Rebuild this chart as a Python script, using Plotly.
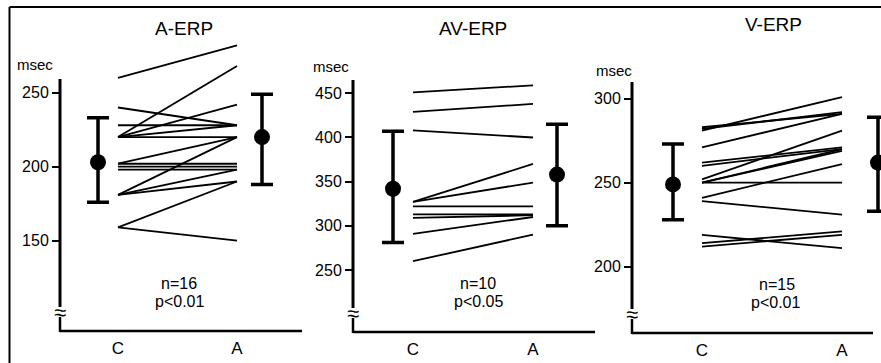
import plotly.graph_objects as go

W, H = 881, 363

categories = ["C", "A"]

# A-ERP (msec), control (C) vs after (A), one entry per subject
a_erp_c = [260, 220, 240, 228, 220, 220, 220, 202, 202, 200, 198, 181, 181, 181, 159, 159]
a_erp_a = [282, 268, 228, 228, 242, 228, 220, 220, 202, 200, 198, 198, 220, 190, 190, 150]
a_erp_mean = [203, 220]
a_erp_upper = [233, 249]
a_erp_lower = [176, 188]

# AV-ERP
av_erp_c = [451, 429, 408, 327, 327, 322, 313, 309, 291, 260]
av_erp_a = [459, 438, 400, 370, 349, 322, 313, 312, 310, 290]
av_erp_mean = [342, 358]
av_erp_upper = [407, 415]
av_erp_lower = [281, 300]

# V-ERP
v_erp_c = [283, 282, 281, 271, 262, 260, 252, 250, 250, 250, 241, 239, 219, 214, 212]
v_erp_a = [291, 292, 301, 291, 271, 270, 281, 270, 269, 250, 261, 231, 211, 221, 219]
v_erp_mean = [249, 262]
v_erp_upper = [273, 289]
v_erp_lower = [228, 233]

titles = ["A-ERP", "AV-ERP", "V-ERP"]
n_labels = ["n=16", "n=10", "n=15"]
p_labels = ["p&lt;0.01", "p&lt;0.05", "p&lt;0.01"]
y_ticks = [[150, 200, 250], [250, 300, 350, 400, 450], [200, 250, 300]]
y_unit = "msec"

panels_data = [
    (a_erp_c, a_erp_a, a_erp_mean, a_erp_upper, a_erp_lower),
    (av_erp_c, av_erp_a, av_erp_mean, av_erp_upper, av_erp_lower),
    (v_erp_c, v_erp_a, v_erp_mean, v_erp_upper, v_erp_lower),
]

# ---- layout geometry (pixels) ----
geom = [
    dict(ax=60, bottom=331, top=79, brk=312, xend=302, dom1=302, cpx=118, apx=237,
         err=(98, 262), cal=((250, 92.7), (150, 240.7)),
         title=(184, 28), msec=(35, 64), n=(179, 283), p=(179, 301)),
    dict(ax=353, bottom=332, top=80, brk=313, xend=595, dom1=595, cpx=413, apx=533,
         err=(393, 557), cal=((450, 93.3), (250, 270.0)),
         title=(473, 28), msec=(331, 67), n=(478, 283), p=(479, 301)),
    dict(ax=632, bottom=333, top=82, brk=314, xend=873, dom1=881, cpx=702, apx=842,
         err=(673, 878), cal=((300, 98.7), (200, 266.7)),
         title=(773, 24), msec=(614, 71), n=(777, 284), p=(775, 302)),
]
DOM_TOP = 38
FONT = "Liberation Sans, Arial, sans-serif"

fig = go.Figure()
shapes = []
annotations = []


def px(x):
    return x / W


def py(y):
    return 1 - y / H


for i, (g, d) in enumerate(zip(geom, panels_data)):
    cvals, avals, mean, upper, lower = d
    k = "" if i == 0 else str(i + 1)
    xa, ya = "x" + k, "y" + k
    span = g["apx"] - g["cpx"]
    xr = [(g["ax"] - g["cpx"]) / span, (g["dom1"] - g["cpx"]) / span]
    (v1, p1), (v2, p2) = g["cal"]
    s = (p2 - p1) / (v2 - v1)

    def val(ypx):
        return v1 + (ypx - p1) / s

    yr = [val(g["bottom"]), val(DOM_TOP)]

    # individual subject lines
    xs, ys = [], []
    for c, a in zip(cvals, avals):
        xs += [0, 1, None]
        ys += [c, a, None]
    fig.add_trace(go.Scatter(x=xs, y=ys, mode="lines", xaxis=xa, yaxis=ya,
                             line=dict(color="black", width=1.8), showlegend=False,
                             hoverinfo="skip"))
    # mean +- SD
    ex = [(e - g["cpx"]) / span for e in g["err"]]
    fig.add_trace(go.Scatter(
        x=ex, y=mean, mode="markers", xaxis=xa, yaxis=ya, showlegend=False,
        marker=dict(color="black", size=16, symbol="circle"),
        error_y=dict(type="data", symmetric=False,
                     array=[u - m for u, m in zip(upper, mean)],
                     arrayminus=[m - l for m, l in zip(mean, lower)],
                     color="black", thickness=3.5, width=11),
        cliponaxis=False))

    fig.update_layout({
        "xaxis" + k: dict(domain=[px(g["ax"]), px(g["dom1"])], range=xr, anchor=ya,
                          tickvals=[0, 1], ticktext=categories, ticks="",
                          ticklabelstandoff=5,
                          showline=False, showgrid=False, zeroline=False,
                          tickfont=dict(family=FONT, size=17, color="black")),
        "yaxis" + k: dict(domain=[py(g["bottom"]), py(DOM_TOP)], range=yr, anchor=xa,
                          tickvals=y_ticks[i], ticks="outside", ticklen=7, tickwidth=2,
                          tickcolor="black", showline=False, showgrid=False,
                          zeroline=False,
                          tickfont=dict(family=FONT, size=16, color="black")),
    })

    # axis lines (with break gap on y)
    x0 = px(g["ax"])
    shapes.append(dict(type="line", xref="paper", yref="paper", x0=x0, x1=x0,
                       y0=py(g["top"]), y1=py(g["brk"] - 5),
                       line=dict(color="black", width=3)))
    shapes.append(dict(type="line", xref="paper", yref="paper", x0=x0, x1=x0,
                       y0=py(g["brk"] + 5), y1=py(g["bottom"] + 1),
                       line=dict(color="black", width=2.5)))
    shapes.append(dict(type="line", xref="paper", yref="paper", x0=x0,
                       x1=px(g["xend"]), y0=py(g["bottom"]), y1=py(g["bottom"]),
                       line=dict(color="black", width=2.5)))

    annotations += [
        dict(text="≈", x=x0, y=py(g["brk"]), xref="paper", yref="paper",
             showarrow=False, xanchor="center", yanchor="middle",
             font=dict(family=FONT, size=22, color="black")),
        dict(text=titles[i], x=px(g["title"][0]), y=py(g["title"][1]), xref="paper",
             yref="paper", showarrow=False, xanchor="center", yanchor="middle",
             font=dict(family=FONT, size=19, color="black")),
        dict(text=y_unit, x=px(g["msec"][0]), y=py(g["msec"][1]), xref="paper",
             yref="paper", showarrow=False, xanchor="center", yanchor="middle",
             font=dict(family=FONT, size=15, color="black")),
        dict(text=n_labels[i], x=px(g["n"][0]), y=py(g["n"][1]), xref="paper",
             yref="paper", showarrow=False, xanchor="center", yanchor="middle",
             font=dict(family=FONT, size=16, color="black")),
        dict(text=p_labels[i], x=px(g["p"][0]), y=py(g["p"][1]), xref="paper",
             yref="paper", showarrow=False, xanchor="center", yanchor="middle",
             font=dict(family=FONT, size=16, color="black")),
    ]

# outer frame (left and top edges)
shapes.append(dict(type="line", xref="paper", yref="paper", x0=px(9.5), x1=px(9.5),
                   y0=py(7), y1=-0.05, line=dict(color="black", width=2)))
shapes.append(dict(type="line", xref="paper", yref="paper", x0=px(9.5), x1=1.05,
                   y0=py(7), y1=py(7), line=dict(color="black", width=2)))

fig.update_layout(
    template="none",
    width=W, height=H, autosize=False,
    margin=dict(l=0, r=0, t=0, b=0, pad=0),
    paper_bgcolor="white", plot_bgcolor="white",
    showlegend=False,
    shapes=shapes, annotations=annotations,
    font=dict(family=FONT, color="black"),
)

fig.write_html("out.html")
